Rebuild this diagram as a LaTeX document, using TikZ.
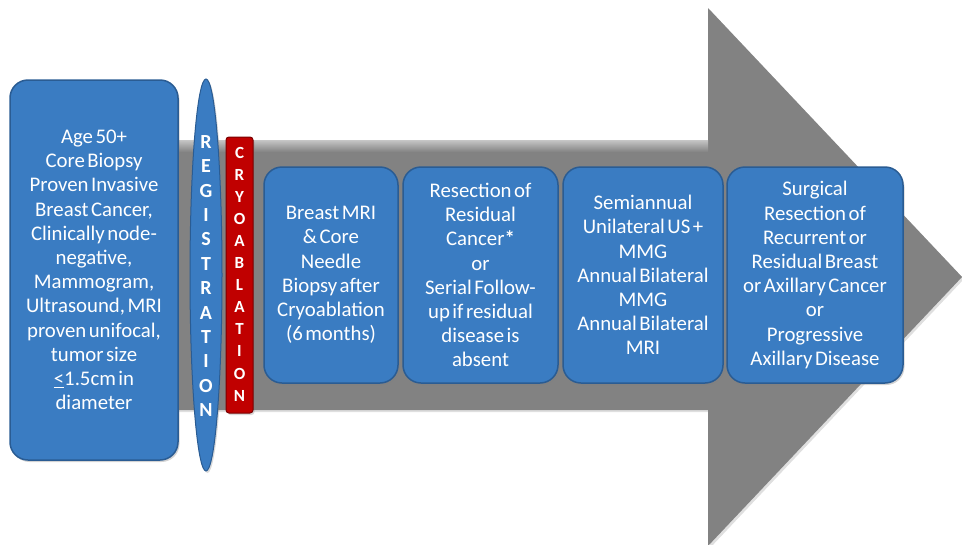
\documentclass[tikz,border=0pt]{standalone}
\usepackage{fontspec}
\setmainfont{Carlito}
\usetikzlibrary{shapes.geometric,shadows}
\definecolor{boxblue}{HTML}{3A7CC2}
\definecolor{boxedge}{HTML}{2A5C93}
\definecolor{arrowgray}{HTML}{828282}
\definecolor{cryored}{HTML}{C00000}
\definecolor{cryoedge}{HTML}{7A0000}
\newcommand{\boxtextfont}{\fontsize{20.8}{24.2}\selectfont\spaceskip=0.12em\relax\xspaceskip=0.14em\relax}
\tikzset{
  bluebox/.style={draw=boxedge, line width=1.5pt, fill=boxblue, rounded corners=18pt,
    text=white, align=center, inner sep=0pt,
    font=\boxtextfont,
    drop shadow={shadow xshift=1.5pt, shadow yshift=-2pt, opacity=0.35}},
  vletters/.style={text=white, align=center, inner sep=0pt, font=\bfseries\fontsize{20}{24.4}\selectfont},
}
\begin{document}
\begin{tikzpicture}[x=1pt,y=-1pt]
\useasboundingbox (0,0) rectangle (962,544);
\clip (0,0) rectangle (962,544);
% big gray arrow
\path[fill=arrowgray, drop shadow={shadow xshift=2pt, shadow yshift=-2pt, opacity=0.25}]
  (172,140) -- (708,140) -- (708,8) -- (962,277) -- (708,546) -- (708,410) -- (172,410) -- cycle;
\path[top color=gray!45, bottom color=arrowgray] (172,140) rectangle (708,152);
% left box
\node[bluebox, minimum width=168pt, minimum height=380pt, text width=164pt] (inc) at (94,270)
  {\boxtextfont Age 50+\\Core Biopsy\\Proven Invasive\\Breast Cancer,\\Clinically node-\\negative,\\Mammogram,\\Ultrasound, MRI\\proven unifocal,\\tumor size\\\underline{<}1.5cm in\\diameter};
% registration ellipse
\node[ellipse, draw=boxedge, line width=1pt, fill=boxblue, minimum width=32pt, minimum height=392pt, inner sep=0pt,
  drop shadow={shadow xshift=1.5pt, shadow yshift=-2pt, opacity=0.3}] (reg) at (206,275) {};
\node[vletters] (regtext) at (206,276) {R\\E\\G\\I\\S\\T\\R\\A\\T\\I\\O\\N};
% cryoablation bar
\node[draw=cryoedge, line width=1pt, fill=cryored, rounded corners=3pt, minimum width=27pt, minimum height=276pt, inner sep=0pt,
  drop shadow={shadow xshift=1.5pt, shadow yshift=-2pt, opacity=0.3}] (cryo) at (239.5,275) {};
\node[vletters, font=\bfseries\fontsize{17}{22.1}\selectfont] (cryotext) at (239.5,274) {C\\R\\Y\\O\\A\\B\\L\\A\\T\\I\\O\\N};
% step boxes
\node[bluebox, minimum width=134pt, minimum height=216pt, text width=132pt] (b1) at (331,275)
  {\boxtextfont Breast MRI\\\& Core\\Needle\\Biopsy after\\Cryoablation\\(6 months)};
\node[bluebox, minimum width=155pt, minimum height=216pt, text width=152pt] (b2) at (480.5,275)
  {\boxtextfont Resection of\\Residual\\Cancer\textbf{*}\\or\\Serial Follow-\\up if residual\\disease is\\absent};
\node[bluebox, minimum width=160pt, minimum height=216pt, text width=158pt] (b3) at (643,275)
  {\boxtextfont Semiannual\\Unilateral US +\\MMG\\Annual Bilateral\\MMG\\Annual Bilateral\\MRI};
\node[bluebox, minimum width=176pt, minimum height=216pt, text width=174pt] (b4) at (815,275)
  {\boxtextfont Surgical\\Resection of\\Recurrent or\\Residual Breast\\or Axillary Cancer\\or\\Progressive\\Axillary Disease};
\end{tikzpicture}
\end{document}
